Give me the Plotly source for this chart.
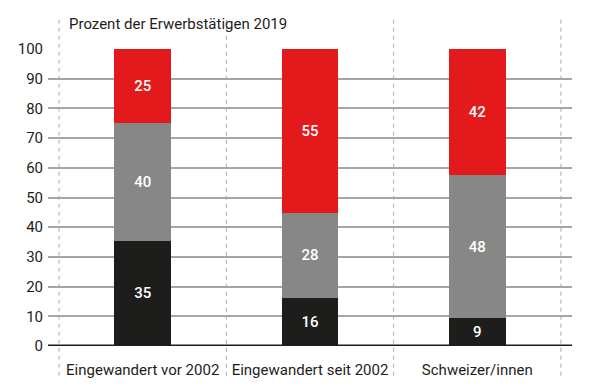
import plotly.graph_objects as go

categories = ["Eingewandert vor 2002", "Eingewandert seit 2002", "Schweizer/innen"]
series_names = ["unten", "mitte", "oben"]
bottom_vals = [35.4, 16.2, 9.4]
middle_vals = [39.7, 28.6, 48.2]
top_vals = [24.9, 55.2, 42.4]
bottom_labels = ["35", "16", "9"]
middle_labels = ["40", "28", "48"]
top_labels = ["25", "55", "42"]
y_ticks = [0, 10, 20, 30, 40, 50, 60, 70, 80, 90, 100]
title_text = "Prozent der Erwerbstätigen 2019"

FONT = "Roboto, sans-serif"
colors = ["#1d1d1b", "#878787", "#e3191b"]

fig = go.Figure()
for name, vals, labels, col in zip(series_names,
                                   [bottom_vals, middle_vals, top_vals],
                                   [bottom_labels, middle_labels, top_labels],
                                   colors):
    fig.add_trace(go.Bar(
        x=list(range(len(categories))), y=vals, name=name,
        marker=dict(color=col, line=dict(width=0)),
        width=0.34,
        text=labels, textposition="inside", insidetextanchor="middle",
        textangle=0,
        textfont=dict(color="white", size=15, family=FONT, weight=500),
        constraintext="none", hoverinfo="skip",
    ))

# dashed category separators
for xv in [-0.5, 0.5, 1.5, 2.5]:
    fig.add_shape(type="line", xref="x", yref="paper", x0=xv, x1=xv,
                  y0=-0.1, y1=1.101,
                  line=dict(color="#aaaaaa", width=1, dash="4px,4px"), layer="below")

fig.add_annotation(text=title_text, xref="paper", yref="paper", x=0.036, y=1.084,
                   xanchor="left", yanchor="middle", showarrow=False,
                   font=dict(size=15, color="#1d1d1b", family=FONT))

# page body has an 8px margin, so the figure is 8px smaller and shifted
fig.update_layout(
    barmode="stack",
    width=584, height=384,
    margin=dict(l=40, r=20, t=41, b=46),
    paper_bgcolor="white", plot_bgcolor="white",
    showlegend=False,
    font=dict(family=FONT, size=15, color="#1d1d1b"),
    uniformtext=dict(mode=False),
    xaxis=dict(range=[-0.566, 2.566], tickmode="array",
               tickvals=list(range(len(categories))), ticktext=categories,
               showgrid=False, zeroline=False, showline=False, ticks="",
               tickangle=0, automargin=False,
               tickfont=dict(size=15, family=FONT, color="#1d1d1b"),
               ticklabelstandoff=13),
    yaxis=dict(range=[0, 100], tickmode="array", tickvals=y_ticks,
               showgrid=True, gridcolor="#a6a6a6", gridwidth=1.5,
               zeroline=False, showline=False, ticks="", automargin=False,
               tickfont=dict(size=15, family=FONT, color="#1d1d1b"),
               ticklabelstandoff=4),
)

fig.add_shape(type="line", xref="paper", yref="y", x0=0, x1=1, y0=0, y1=0,
              line=dict(color="#1d1d1b", width=3), layer="above")

fig.write_html("out.html")
